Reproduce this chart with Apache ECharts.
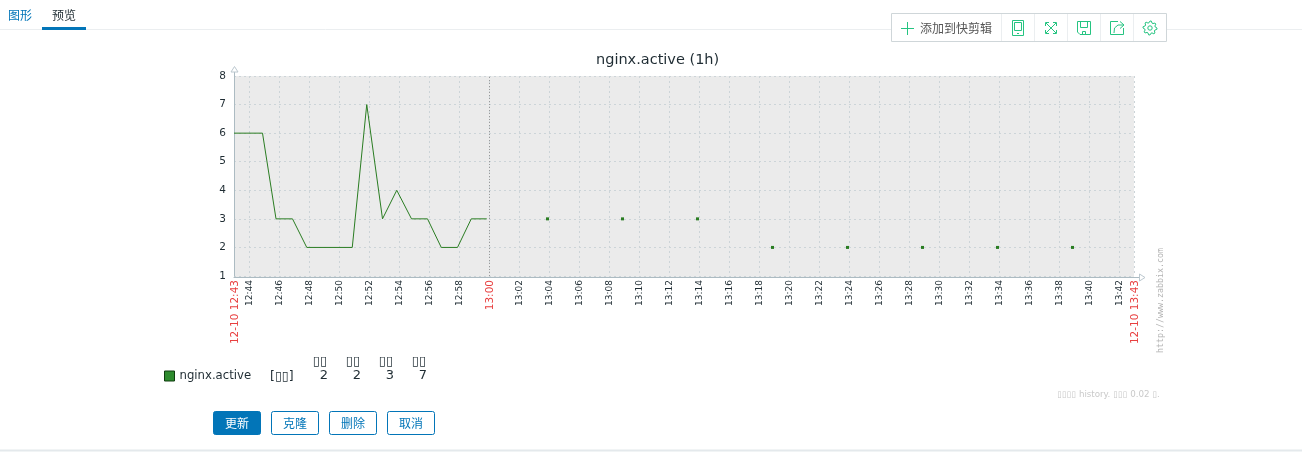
<!DOCTYPE html>
<html>
<head>
<meta charset="utf-8">
<style>html,body{margin:0;padding:0;background:#fff}#main{width:1302px;height:452px}</style>
<script src="https://cdn.jsdelivr.net/npm/echarts@6/dist/echarts.min.js"></script>
</head>
<body>
<div id="main"></div>
<script>
var DAY = '2019-12-10 ';
// connected part of the line
var lineTimes = ['12:43:00', '12:44:54', '12:45:48', '12:46:54', '12:47:51', '12:50:53', '12:51:51', '12:52:54', '12:53:51', '12:54:50', '12:55:54', '12:56:49', '12:57:54', '12:58:49', '12:59:51'];
var lineValues = [6, 6, 3, 3, 2, 2, 7, 3, 4, 3, 3, 2, 2, 3, 3];
// isolated samples after the gap
var dotTimes = ['13:03:54', '13:08:54', '13:13:54', '13:18:54', '13:23:54', '13:28:54', '13:33:54', '13:38:54'];
var dotValues = [3, 3, 3, 2, 2, 2, 2, 2];
var gridTimes = ['12:43', '12:44', '12:46', '12:48', '12:50', '12:52', '12:54', '12:56', '12:58', '13:00', '13:02', '13:04', '13:06', '13:08', '13:10', '13:12', '13:14', '13:16', '13:18', '13:20', '13:22', '13:24', '13:26', '13:28', '13:30', '13:32', '13:34', '13:36', '13:38', '13:40', '13:42', '13:43'];
var redTimes = ['12:43', '13:00', '13:43'];
var statHeads = ['▯▯', '▯▯', '▯▯', '▯▯'];
var statValues = ['2', '2', '3', '7'];
var statHeadX = [320, 353, 386, 419];
var statValueX = [324, 357, 390, 423];
var buttons = [
    { text: '更新', x: 213, solid: true },
    { text: '克隆', x: 271 },
    { text: '删除', x: 329 },
    { text: '取消', x: 387 }
];

var UI_FONT = '"DejaVu Sans", sans-serif';
var CJK_FONT = '"Noto Sans CJK SC", sans-serif';
var BLUE = '#0275b8';
var ICON = '#25c481';
var SERIES_COLOR = '#2a7d22';
var RED = '#e84040';

function toDate(t) {
    return echarts.time.parse(DAY + t).getTime();
}
function pairs(times, values) {
    return times.map(function (t, i) {
        return [toDate(t), values[i]];
    });
}
function txt(x, y, text, size, color, font, align, extra) {
    return Object.assign({
        type: 'text',
        x: x,
        y: y,
        silent: true,
        style: { text: text, fontSize: size, fill: color, fontFamily: font, align: align || 'left', verticalAlign: 'middle' }
    }, extra || {});
}
function rect(x, y, w, h, fill, stroke, r) {
    return {
        type: 'rect', silent: true,
        shape: { x: x, y: y, width: w, height: h, r: r || 0 },
        style: { fill: fill || 'none', stroke: stroke || 'none', lineWidth: 1 }
    };
}
function line(x1, y1, x2, y2, color, w) {
    return {
        type: 'line', silent: true,
        shape: { x1: x1, y1: y1, x2: x2, y2: y2 },
        style: { stroke: color, lineWidth: w || 1 }
    };
}
function poly(points, color, closed) {
    return {
        type: closed ? 'polygon' : 'polyline', silent: true,
        shape: { points: points },
        style: { fill: closed && closed !== true ? closed : 'none', stroke: color, lineWidth: 1 }
    };
}
function ring(cx, cy, r, color) {
    return {
        type: 'circle', silent: true,
        shape: { cx: cx, cy: cy, r: r },
        style: { fill: 'none', stroke: color, lineWidth: 1 }
    };
}
function gearPoints(cx, cy) {
    var pts = [];
    for (var i = 0; i < 32; i++) {
        var a = i / 32 * Math.PI * 2;
        var r = (i % 4 < 2) ? 7 : 5.3;
        pts.push([cx + Math.cos(a) * r, cy + Math.sin(a) * r]);
    }
    return pts;
}

var graphics = [
    // tabs
    line(0, 29.5, 1302, 29.5, '#ebeef0'),
    rect(42, 27, 44, 3, BLUE),
    txt(8, 15, '图形', 12, BLUE, CJK_FONT),
    txt(52, 15, '预览', 12, '#1f2c33', CJK_FONT),
    // toolbar
    rect(891.5, 13.5, 275, 28, '#fff', '#cfd6d9'),
    line(1001.5, 14, 1001.5, 41, '#ebeef0'),
    line(1034.5, 14, 1034.5, 41, '#ebeef0'),
    line(1067.5, 14, 1067.5, 41, '#ebeef0'),
    line(1100.5, 14, 1100.5, 41, '#ebeef0'),
    line(1133.5, 14, 1133.5, 41, '#ebeef0'),
    line(901, 28.5, 914, 28.5, ICON),
    line(907.5, 22, 907.5, 35, ICON),
    txt(920, 28.5, '添加到快剪辑', 12, '#555', CJK_FONT),
    // tablet
    rect(1012.5, 20.5, 11, 15, null, ICON),
    rect(1014.5, 22.5, 7, 8, null, ICON),
    line(1017, 33.5, 1019, 33.5, ICON),
    // fullscreen
    line(1046, 23, 1056, 33, ICON),
    line(1056, 23, 1046, 33, ICON),
    poly([[1045.5, 26], [1045.5, 22.5], [1049, 22.5]], ICON),
    poly([[1053, 22.5], [1056.5, 22.5], [1056.5, 26]], ICON),
    poly([[1045.5, 30], [1045.5, 33.5], [1049, 33.5]], ICON),
    poly([[1053, 33.5], [1056.5, 33.5], [1056.5, 30]], ICON),
    // save
    poly([[1077.5, 21.5], [1090.5, 21.5], [1090.5, 34.5], [1080, 34.5], [1077.5, 32]], ICON, true),
    rect(1080.5, 21.5, 7, 6, null, ICON),
    rect(1082.5, 31.5, 3, 3, null, ICON),
    // share
    poly([[1118, 21.5], [1110.5, 21.5], [1110.5, 34.5], [1123.5, 34.5], [1123.5, 28]], ICON),
    poly([[1114, 33], [1114.5, 28], [1118, 25], [1123, 25]], ICON),
    poly([[1120, 21.5], [1124, 25], [1120, 28.5]], ICON),
    // settings
    poly(gearPoints(1150, 28), ICON, true),
    ring(1150, 28, 2.2, ICON),
    // the x axis sits one pixel under the value 1 row
    rect(235, 276, 899, 1, '#ebebeb'),
    line(234.5, 276, 234.5, 277, '#acbbc2'),
    // axis extensions and hollow arrow heads
    line(234.5, 72, 234.5, 76, '#acbbc2'),
    line(1134, 277.5, 1139, 277.5, '#acbbc2'),
    poly([[234.5, 66.5], [231, 72], [238, 72]], '#bcc8cf', '#fff'),
    poly([[1145, 277.5], [1139.5, 274], [1139.5, 281]], '#bcc8cf', '#fff'),
    // watermark
    txt(1161, 353, 'http://www.zabbix.com', 8.3, '#b4b4b4', '"DejaVu Sans Mono", monospace', 'left', { rotation: Math.PI / 2 }),
    // legend columns
    txt(270, 376.5, '[▯▯]', 12.5, '#1f2c33', UI_FONT),
    txt(1057, 394.5, '▯▯▯▯ history. ▯▯▯ 0.02 ▯.', 8.7, '#c9c9c9', UI_FONT),
    line(0, 450.5, 1302, 450.5, '#e4e9ec', 2)
];
statHeads.forEach(function (h, i) {
    graphics.push(txt(statHeadX[i], 362, h, 13, '#1f2c33', UI_FONT, 'center'));
    graphics.push(txt(statValueX[i], 376, statValues[i], 13, '#1f2c33', UI_FONT, 'center'));
});
buttons.forEach(function (b) {
    graphics.push(rect(b.x + 0.5, 411.5, 47, 23, b.solid ? BLUE : '#fff', BLUE, 2));
    graphics.push(txt(b.x + 24, 423.5, b.text, 12, b.solid ? '#fff' : BLUE, CJK_FONT, 'center'));
});

var myChart = echarts.init(document.getElementById('main'), null, { renderer: 'canvas' });
var gridValues = gridTimes.map(function (t) { return toDate(t + ':00'); });
var redValues = redTimes.map(function (t) { return toDate(t + ':00'); });

var option = {
    animation: false,
    backgroundColor: '#fff',
    title: {
        text: 'nginx.active (1h)',
        left: 596,
        top: 51,
        textStyle: { fontFamily: UI_FONT, fontSize: 14.5, fontWeight: 'normal', color: '#1f2c33' },
        padding: [2, 0, 0, 0]
    },
    legend: {
        left: 164,
        top: 370,
        padding: 0,
        itemWidth: 10,
        itemHeight: 10,
        icon: 'rect',
        data: ['nginx.active'],
        textStyle: { fontFamily: UI_FONT, fontSize: 11.7, color: '#1f2c33', padding: [3, 0, 0, 0] },
        itemStyle: { color: '#2e8b2e', borderColor: '#0f3d0f', borderWidth: 1 }
    },
    grid: {
        left: 234,
        top: 76,
        width: 900,
        height: 200,
        show: true,
        backgroundColor: '#ebebeb',
        borderWidth: 0
    },
    xAxis: {
        type: 'value',
        min: toDate('12:43:00'),
        max: toDate('13:43:00'),
        offset: 1,
        axisLine: { lineStyle: { color: '#acbbc2' } },
        axisTick: { show: false, customValues: gridValues },
        splitLine: {
            show: true,
            lineStyle: { color: '#ccd4d8', type: [2, 3] }
        },
        axisLabel: {
            customValues: gridValues,
            rotate: 90,
            margin: 3,
            hideOverlap: false,
            fontFamily: UI_FONT,
            fontSize: 9,
            color: '#1f2c33',
            padding: [2, 0, 0, 0],
            formatter: function (value) {
                var s = echarts.time.format(value, '{HH}:{mm}', false);
                if (redValues.indexOf(value) < 0) {
                    return s;
                }
                if (s === '13:00') {
                    return '{red|' + s + '}';
                }
                return '{red|12-10 ' + s + '}';
            },
            rich: {
                red: { color: RED, fontFamily: UI_FONT, fontSize: 10.5 }
            }
        }
    },
    yAxis: {
        type: 'value',
        min: 1,
        max: 8,
        interval: 1,
        axisLine: { show: true, lineStyle: { color: '#acbbc2' } },
        axisTick: { show: false },
        splitLine: { lineStyle: { color: '#ccd4d8', type: [2, 3] } },
        axisLabel: { margin: 8, fontFamily: UI_FONT, fontSize: 10.5, color: '#1f2c33', padding: [4, 0, 0, 0] }
    },
    series: [
        {
            name: 'nginx.active',
            type: 'scatter',
            symbol: 'rect',
            symbolSize: 3,
            itemStyle: { color: SERIES_COLOR, opacity: 1 },
            data: pairs(dotTimes, dotValues)
        },
        {
            name: 'nginx.active',
            type: 'line',
            showSymbol: false,
            lineStyle: { color: SERIES_COLOR, width: 1 },
            data: pairs(lineTimes, lineValues),
            markLine: {
                silent: true,
                symbol: 'none',
                label: { show: false },
                lineStyle: { color: '#9a9a9a', type: [1, 2], width: 1 },
                data: [{ xAxis: toDate('13:00:00') }]
            }
        }
    ],
    graphic: { elements: graphics }
};
myChart.setOption(option);
</script>
</body>
</html>
